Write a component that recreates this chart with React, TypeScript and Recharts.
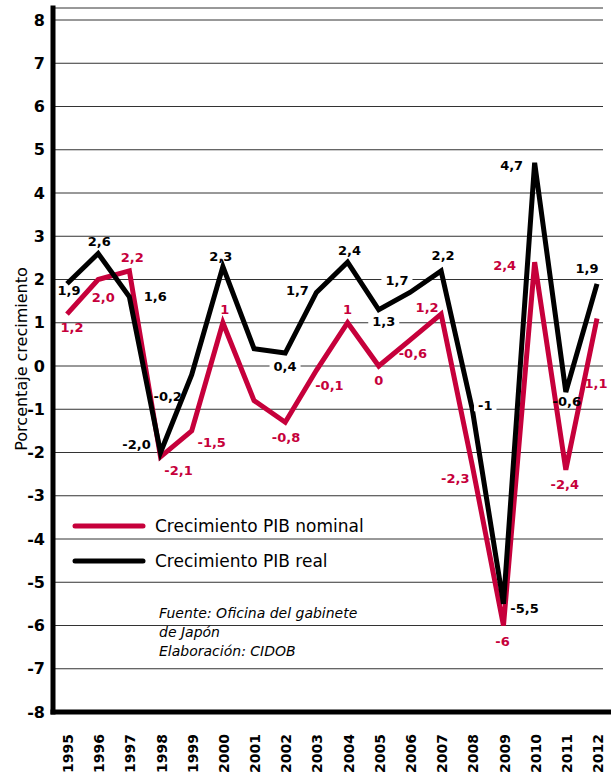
import React from 'react';
import { LineChart, Line, XAxis, YAxis, CartesianGrid, Legend, LabelList } from 'recharts';

const years = ['1995', '1996', '1997', '1998', '1999', '2000', '2001', '2002', '2003', '2004', '2005', '2006', '2007', '2008', '2009', '2010', '2011', '2012'];
const nominal = [1.2, 2.0, 2.2, -2.1, -1.5, 1.0, -0.8, -1.3, -0.1, 1.0, 0, 0.6, 1.2, -2.3, -6.0, 2.4, -2.4, 1.1];
const real = [1.9, 2.6, 1.6, -2.0, -0.2, 2.3, 0.4, 0.3, 1.7, 2.4, 1.3, 1.7, 2.2, -1.0, -5.5, 4.7, -0.6, 1.9];
const nominalLabels = ['1,2', '2,0', '2,2', '-2,1', '-1,5', '1', '-0,8', '', '-0,1', '1', '0', '-0,6', '1,2', '-2,3', '-6', '2,4', '-2,4', '1,1'];
const realLabels = ['1,9', '2,6', '1,6', '-2,0', '-0,2', '2,3', '0,4', '', '1,7', '2,4', '1,3', '1,7', '2,2', '-1', '-5,5', '4,7', '-0,6', '1,9'];
const yTicks = [-8, -7, -6, -5, -4, -3, -2, -1, 0, 1, 2, 3, 4, 5, 6, 7, 8];

// where each value label sits, relative to its point
const nominalOffsets = [[5, 13], [5, 18], [3, -14], [18, 13], [20, 11], [2, -13], [32, 37], [0, 0], [13, 15], [0, -13], [0, 14], [3, 13], [-14, -7], [-17, 13], [-1, 16], [-30, 3], [-1, 15], [-1, 65]];
const realOffsets = [[2, 6], [1, -12], [26, 0], [-24, -8], [-24, 22], [-2, -10], [31, 18], [0, 0], [-19, -2], [2, -12], [5, 12], [-13, -12], [2, -16], [13, -4], [21, 4], [-23, 3], [1, 9], [-10, -16]];
// labels sitting on a grid line get a white box that breaks the line
const realKnockout = [6, 10, 11, 13];

const RED = '#C6003B';
const FONT = '"DejaVu Sans", sans-serif';

const data = years.map((year, i) => ({ year, nominal: nominal[i], real: real[i] }));

const textWidth = (s: string) =>
  s.split('').reduce((w, c) => w + (c === ',' ? 0.38 : c === '-' ? 0.415 : 0.696), 0) * 13;

const makeLabel = (labels: string[], offsets: number[][], color: string, knockout: number[] = []) => (props: any) => {
  const { x, y, index } = props;
  const text = labels[index];
  if (!text) return null;
  const cx = x + offsets[index][0];
  const cy = y + offsets[index][1];
  const w = textWidth(text) + 8;
  return (
    <g>
      {knockout.includes(index) && <rect x={cx - w / 2} y={cy - 6} width={w} height={12} fill="#fff" />}
      <text x={cx} y={cy} dy="0.36em" textAnchor="middle" fontFamily={FONT} fontWeight="bold" fontSize={13} fill={color}>
        {text}
      </text>
    </g>
  );
};

const YearTick = (props: any) => {
  const { x, y, payload } = props;
  return (
    <text
      transform={`translate(${x + 1},${y + 20}) rotate(-90)`}
      textAnchor="end"
      dy="0.36em"
      fontFamily={FONT}
      fontWeight="bold"
      fontSize={14}
      fill="#000"
    >
      {payload.value}
    </text>
  );
};

const renderLegend = () => (
  <div style={{ fontFamily: FONT, fontSize: 17, color: '#000' }}>
    {[
      { name: 'Crecimiento PIB nominal', color: RED },
      { name: 'Crecimiento PIB real', color: '#000' },
    ].map((item) => (
      <div key={item.name} style={{ display: 'flex', alignItems: 'center', height: 35 }}>
        <svg width={83} height={10}>
          <line x1={3} y1={5} x2={71} y2={5} stroke={item.color} strokeWidth={5} strokeLinecap="round" />
        </svg>
        <span>{item.name}</span>
      </div>
    ))}
  </div>
);

const App: React.FC = () => {
  return (
    <div style={{ position: 'absolute', left: 0, top: 0, width: 611, height: 777, background: '#fff' }}>
      <LineChart width={611} height={777} data={data} margin={{ top: 8, right: 0, bottom: 0, left: 0 }}>
        <CartesianGrid horizontal vertical={false} x={55} width={548} stroke="#333" strokeWidth={1} />
        <XAxis
          dataKey="year"
          height={65}
          padding={{ left: 14, right: 14 }}
          axisLine={{ stroke: '#000', strokeWidth: 5, strokeLinecap: 'square' }}
          tickLine={false}
          tickSize={0}
          tick={<YearTick />}
          interval={0}
        />
        <YAxis
          width={53}
          domain={[-8, 8.2775]}
          ticks={yTicks}
          allowDataOverflow
          axisLine={{ stroke: '#000', strokeWidth: 5, strokeLinecap: 'square' }}
          tickLine={false}
          tickSize={0}
          tickMargin={8}
          tick={{ fontFamily: FONT, fontWeight: 'bold', fontSize: 16, fill: '#000' }}
          label={() => (
            <text
              transform="translate(21,359) rotate(-90)"
              textAnchor="middle"
              dy="0.36em"
              fontFamily={FONT}
              fontSize={16}
              fill="#000"
            >
              Porcentaje crecimiento
            </text>
          )}
        />
        <Legend
          content={renderLegend}
          layout="horizontal"
          verticalAlign="middle"
          wrapperStyle={{ left: 72, top: 508, width: 340 }}
        />
        <Line type="linear" dataKey="nominal" stroke={RED} strokeWidth={5} dot={false} isAnimationActive={false}>
          <LabelList dataKey="nominal" content={makeLabel(nominalLabels, nominalOffsets, RED)} />
        </Line>
        <Line type="linear" dataKey="real" stroke="#000" strokeWidth={5} dot={false} isAnimationActive={false}>
          <LabelList dataKey="real" content={makeLabel(realLabels, realOffsets, '#000', realKnockout)} />
        </Line>
      </LineChart>
      <div
        style={{
          position: 'absolute',
          left: 159,
          top: 604,
          fontFamily: FONT,
          fontStyle: 'italic',
          fontSize: 14,
          lineHeight: '19px',
          color: '#000',
        }}
      >
        Fuente: Oficina del gabinete
        <br />
        de Japón
        <br />
        Elaboración: CIDOB
      </div>
    </div>
  );
};

export default App;
